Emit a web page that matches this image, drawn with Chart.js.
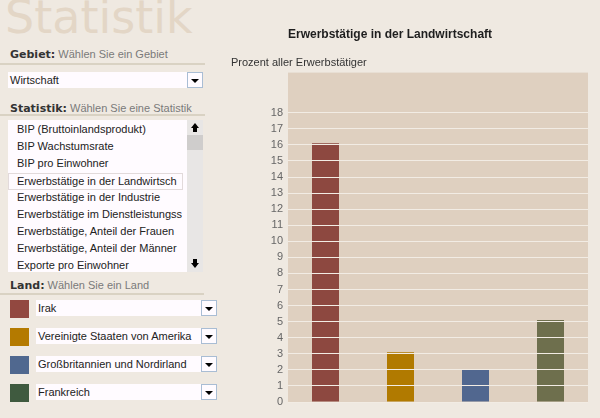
<!DOCTYPE html>
<html lang="de">
<head>
<meta charset="utf-8">
<script src="https://cdn.jsdelivr.net/npm/chart.js@4"></script>
<style>
  html, body { margin: 0; padding: 0; }
  body { width: 600px; height: 418px; background: #efe9e1; position: relative; overflow: hidden;
         font-family: "Liberation Sans", sans-serif; font-size: 11px; color: #222; }
  .abs { position: absolute; }
  .wasserzeichen { left: 5px; top: -6px; font-family: "DejaVu Sans", sans-serif; font-size: 46px;
                   line-height: 46px; color: #e3d6c6; white-space: nowrap; }
  .kopf { left: 10px; color: #7a7a7a; white-space: nowrap; }
  .kopf b { color: #333; font-family: "DejaVu Sans", sans-serif; font-size: 11px; }
  .linie { left: 0; height: 2px; background: #d9d2c3; }
  .box { background: #fffbff; }
  .pfeil { width: 14px; border: 1px solid #a9bdd4; background: #fffbff; }
  .pfeil::after { content: ""; position: absolute; left: 3px; top: 6px; border-left: 4px solid transparent;
                  border-right: 4px solid transparent; border-top: 4px solid #000; }
  .eintrag { left: 9px; width: 165px; height: 15px; line-height: 15px; padding-left: 8px; white-space: nowrap; overflow: hidden; }
  .gewaehlt { border: 1px solid #e2dadb; left: 8px; }
  #diagramm { position: absolute; left: 231px; top: 0; }
</style>
</head>
<body>
<div class="abs wasserzeichen">Statistik</div>

<div class="abs kopf" style="top:48px"><b>Gebiet:</b> Wählen Sie ein Gebiet</div>
<div class="abs linie" style="top:63px;width:205px"></div>
<div class="abs box" style="left:8px;top:72px;width:195px;height:16px"></div>
<div class="abs" style="left:10px;top:72px;line-height:16px">Wirtschaft</div>
<div class="abs pfeil" style="left:187px;top:72px;height:14px"></div>

<div class="abs kopf" style="top:102px"><b>Statistik:</b> Wählen Sie eine Statistik</div>
<div class="abs linie" style="top:114px;width:205px"></div>
<div class="abs box" style="left:8px;top:120px;width:195px;height:152px"></div>
<div id="liste"></div>
<div class="abs" style="left:187px;top:120px;width:16px;height:152px;background:#e8e6e5"></div>
<div class="abs" style="left:187px;top:135px;width:16px;height:15px;background:#cfcdcc"></div>
<div class="abs" style="left:191px;top:123px;border-left:4px solid transparent;border-right:4px solid transparent;border-bottom:5px solid #000"></div>
<div class="abs" style="left:193px;top:128px;width:4px;height:4px;background:#000"></div>
<div class="abs" style="left:193px;top:259px;width:4px;height:4px;background:#000"></div>
<div class="abs" style="left:191px;top:263px;border-left:4px solid transparent;border-right:4px solid transparent;border-top:5px solid #000"></div>

<div class="abs kopf" style="top:279px"><b>Land:</b> Wählen Sie ein Land</div>
<div class="abs linie" style="top:293px;width:204px"></div>
<div id="laenderListe"></div>

<canvas id="diagramm" width="369" height="418"></canvas>

<script>
// Auswahllisten links
const statistiken = ['BIP (Bruttoinlandsprodukt)', 'BIP Wachstumsrate', 'BIP pro Einwohner',
  'Erwerbstätige in der Landwirtsch', 'Erwerbstätige in der Industrie', 'Erwerbstätige im Dienstleistungss',
  'Erwerbstätige, Anteil der Frauen', 'Erwerbstätige, Anteil der Männer', 'Exporte pro Einwohner'];
const gewaehlteStatistik = 3;

// Daten des Diagramms
const laender = ['Irak', 'Vereinigte Staaten von Amerika', 'Großbritannien und Nordirland', 'Frankreich'];
const werte = [16.1, 3.1, 2.05, 5.1];
const balkenFarben = ['#8d4840', '#b17a00', '#51678f', '#6e6f4d'];
const legendenFarben = ['#924840', '#b47a00', '#50688f', '#3f5a3f'];
const yTicks = [0, 1, 2, 3, 4, 5, 6, 7, 8, 9, 10, 11, 12, 13, 14, 15, 16, 17, 18];

// Liste der Statistiken aufbauen
let html = '';
statistiken.forEach((s, i) => {
  const cls = i === gewaehlteStatistik ? 'eintrag gewaehlt' : 'eintrag';
  html += `<div class="abs ${cls}" style="top:${122 + i * 17}px">${s}</div>`;
});
document.getElementById('liste').innerHTML = html;

// Länderzeilen mit Farbfeld
html = '';
laender.forEach((l, i) => {
  const y = 300 + i * 28;
  html += `<div class="abs" style="left:10px;top:${y}px;width:19px;height:18px;background:${legendenFarben[i]}"></div>`;
  html += `<div class="abs box" style="left:36px;top:${y}px;width:181px;height:16px"></div>`;
  html += `<div class="abs" style="left:38px;top:${y}px;line-height:16px">${l}</div>`;
  html += `<div class="abs pfeil" style="left:201px;top:${y}px;height:14px"></div>`;
});
document.getElementById('laenderListe').innerHTML = html;

// Hintergrund der Zeichenfläche
const hintergrund = {
  id: 'hintergrund',
  beforeDraw(chart) {
    const { ctx, chartArea: a } = chart;
    ctx.save();
    ctx.fillStyle = '#dfd0c0';
    ctx.fillRect(a.left, a.top, a.right - a.left, a.bottom - a.top);
    ctx.restore();
  }
};

const ctx = document.getElementById('diagramm').getContext('2d');
new Chart(ctx, {
  type: 'bar',
  data: {
    labels: laender,
    datasets: [{
      data: werte,
      backgroundColor: balkenFarben,
      borderWidth: 0,
      barPercentage: 0.36,
      categoryPercentage: 1
    }]
  },
  options: {
    responsive: false,
    animation: false,
    layout: { padding: { top: 27, right: 12, bottom: 16, left: 0 } },
    plugins: {
      legend: { display: false },
      tooltip: { enabled: false },
      title: {
        display: true,
        text: 'Erwerbstätige in der Landwirtschaft',
        align: 'start',
        fullSize: false,
        color: '#1e1e1e',
        font: { family: 'Liberation Sans', size: 12, weight: 'bold' },
        padding: { top: 0, bottom: 15 }
      },
      subtitle: {
        display: true,
        text: 'Prozent aller Erwerbstätiger',
        align: 'start',
        color: '#333',
        font: { family: 'Liberation Sans', size: 11 },
        padding: { top: 0, bottom: 3 }
      }
    },
    scales: {
      x: { display: false },
      y: {
        min: 0,
        max: 20.5,
        z: 1,
        afterBuildTicks: (scale) => { scale.ticks = yTicks.map(v => ({ value: v })); },
        afterFit: (scale) => { scale.width = 57; },
        border: { display: false },
        grid: { z: 1, color: '#f2ece4', lineWidth: 1, drawTicks: false },
        ticks: { color: '#666', padding: 5, font: { family: 'Liberation Sans', size: 11 } }
      }
    }
  },
  plugins: [hintergrund]
});
</script>
</body>
</html>
